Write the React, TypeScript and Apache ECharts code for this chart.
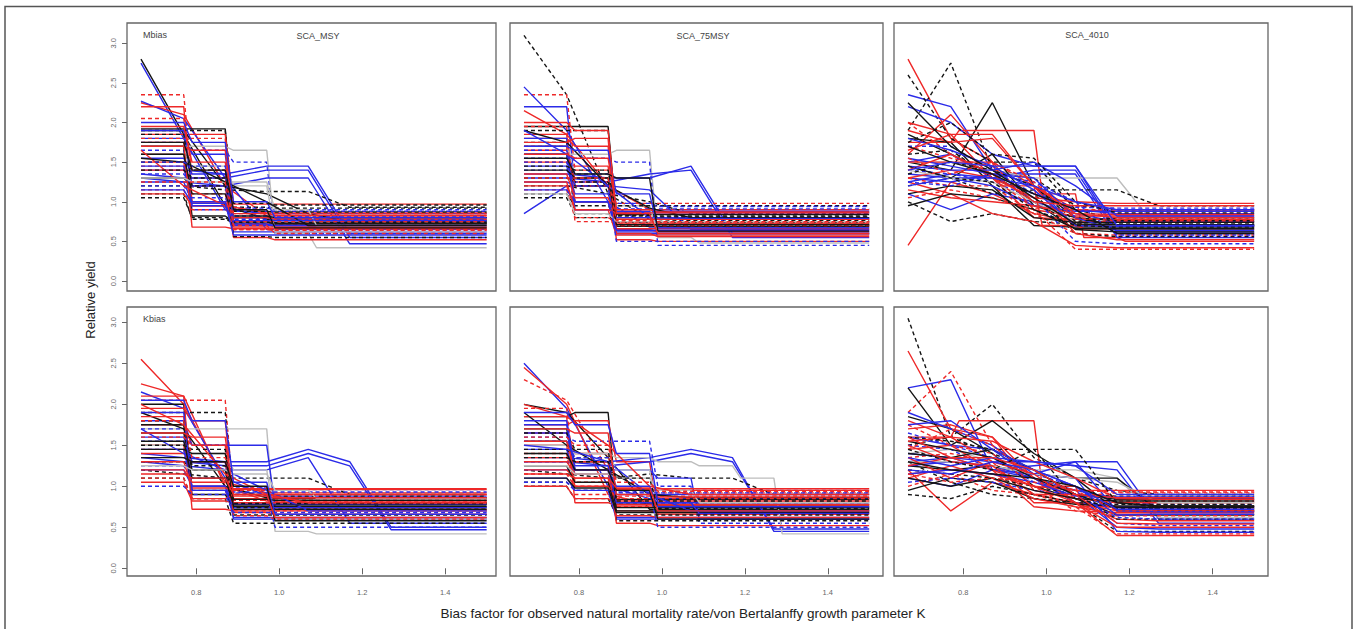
import React, { useEffect, useRef } from 'react';
import * as echarts from 'echarts';

// x positions (bias factor) at which yields change; last value held to X_LAST
const KNOTS = [0.667, 0.77, 0.87, 0.97, 1.07, 1.17, 1.27];
const X_LAST = 1.5;
const X_TICKS = [0.8, 1.0, 1.2, 1.4];
const Y_TICKS = [0, 0.5, 1.0, 1.5, 2.0, 2.5, 3.0];
const ROW_LABELS = ['Mbias', 'Kbias'];
const COL_LABELS = ['SCA_MSY', 'SCA_75MSY', 'SCA_4010'];
const X_TITLE = 'Bias factor for observed natural mortality rate/von Bertalanffy growth parameter K';
const Y_TITLE = 'Relative yield';

// line code: [group R/B/K/G][ '-' solid | ':' dashed ][ 's' step | 'l' linear ], then yields at KNOTS
type Line = (string | number)[];

const mbiasMSY: Line[] = [
  ['K-l', 2.8, 1.85, 0.95, 0.78, 0.76], ['B-l', 2.75, 1.8, 0.9, 0.85], ['r:s', 2.35, 1.3, 0.72],
  ['R-l', 2.25, 2.1, 1.2, 0.82], ['B-l', 2.27, 2.05, 1.3, 0.65], ['R-s', 2.2, 1.0, 0.72, 0.68],
  ['K-s', 1.92, 1.92, 0.75, 0.73], ['k:s', 1.9, 1.9, 0.93, 0.92], ['R-s', 1.85, 1.85, 0.97],
  ['B-s', 1.8, 1.6, 0.8, 0.78], ['b:s', 1.75, 1.65, 1.5, 0.6], ['G-s', 1.7, 1.7, 1.65, 0.6, 0.42],
  ['B-l', 1.4, 1.4, 1.35, 1.45, 1.45, 0.6], ['B-l', 1.35, 1.3, 1.3, 1.4, 1.4, 0.55], ['B-l', 1.3, 1.25, 1.2, 1.3, 1.3, 0.47],
  ['k:l', 1.2, 1.2, 1.15, 1.13, 1.13, 0.93], ['K-l', 1.9, 1.9, 1.2, 1.1, 0.85, 0.75], ['R-s', 1.6, 1.0, 0.8],
  ['R-s', 1.5, 0.95, 0.7], ['r:s', 1.45, 1.1, 0.65], ['B-s', 1.55, 1.35, 0.7],
  ['b:s', 1.65, 0.9, 0.88], ['K-s', 1.7, 0.82, 0.75, 0.72], ['k:s', 1.05, 0.8, 0.74],
  ['k:s', 1.1, 0.78, 0.73], ['R-s', 1.1, 0.95, 0.68], ['r:s', 1.15, 0.9, 0.85],
  ['B-s', 1.25, 1.0, 0.62], ['b:s', 1.2, 1.05, 0.82], ['K-s', 1.3, 1.2, 0.8],
  ['R-s', 1.4, 1.2, 0.55, 0.52], ['k:s', 1.5, 1.4, 0.56, 0.55], ['G-s', 1.6, 1.45, 1.2, 0.62],
  ['B-s', 1.45, 0.95, 0.76], ['R-s', 1.75, 0.68, 0.66], ['r:s', 1.8, 1.8, 0.65, 0.64],
  ['B-s', 1.9, 1.2, 0.72, 0.7], ['K-s', 1.6, 1.1, 0.82, 0.8], ['b:s', 1.35, 1.2, 0.92, 0.9],
  ['R-s', 1.95, 1.5, 0.8, 0.78], ['R-l', 1.65, 1.2, 0.95, 0.86], ['k:s', 1.85, 1.2, 0.88, 0.87],
  ['B-s', 1.15, 0.98, 0.58], ['r:s', 2.05, 1.4, 0.75], ['G-s', 1.3, 1.25, 1.25, 0.9, 0.7],
  ['K-l', 1.55, 1.5, 1.25, 1.0, 0.7], ['R-s', 1.7, 1.65, 0.85, 0.83], ['b:s', 1.5, 1.45, 0.78, 0.77],
  ['K-s', 1.75, 1.4, 0.9, 0.67], ['r:s', 1.25, 1.25, 0.7, 0.6], ['B-s', 2.0, 1.75, 1.0, 0.8],
  ['k:s', 1.4, 1.3, 0.98, 0.96],
];

const mbias75MSY: Line[] = [
  ['k:l', 3.1, 2.35, 1.1, 0.78, 0.76], ['r:s', 2.35, 1.4, 0.75], ['B-s', 2.2, 1.2, 0.62],
  ['R-l', 2.15, 1.85, 1.2, 0.9], ['B-l', 2.45, 1.9, 1.0, 0.68], ['K-s', 1.95, 1.95, 0.8, 0.78],
  ['k:s', 1.9, 1.9, 0.75, 0.72], ['R-s', 1.8, 1.7, 0.65, 0.62], ['k:s', 1.75, 0.8, 0.74],
  ['G-s', 1.6, 1.6, 1.65, 0.55, 0.48], ['b:s', 1.55, 1.55, 1.5, 0.45], ['B-l', 1.35, 1.35, 1.3, 1.3, 1.45, 0.6],
  ['B-l', 1.3, 1.3, 1.25, 1.35, 1.4, 0.55], ['B-l', 0.85, 1.2, 1.2, 1.15, 0.65], ['k:l', 1.2, 1.2, 1.1, 1.0, 0.85],
  ['R-s', 1.65, 1.25, 0.72], ['r:s', 1.5, 1.3, 0.98], ['B-s', 1.45, 1.1, 0.8],
  ['K-s', 1.6, 1.0, 0.69], ['R-s', 1.2, 0.9, 0.58], ['k:s', 1.05, 0.85, 0.7],
  ['k:s', 1.1, 0.95, 0.82], ['r:s', 1.15, 0.8, 0.74], ['B-s', 1.25, 1.2, 0.88],
  ['b:s', 1.4, 1.25, 0.91], ['R-s', 1.85, 1.0, 0.66], ['K-s', 1.7, 1.2, 0.84],
  ['B-s', 1.8, 0.9, 0.86], ['r:s', 1.95, 0.75, 0.73], ['R-s', 1.5, 1.45, 0.52, 0.5],
  ['G-s', 1.7, 1.35, 0.95, 0.6], ['B-s', 1.6, 1.0, 0.6], ['k:s', 1.3, 1.25, 0.95],
  ['R-s', 1.35, 1.05, 0.78], ['b:s', 1.65, 1.35, 0.98, 0.94], ['K-l', 1.9, 1.75, 1.2, 0.92, 0.8],
  ['R-s', 1.75, 1.8, 0.6, 0.56], ['B-s', 1.15, 1.0, 0.64], ['r:s', 1.7, 1.2, 0.7],
  ['K-s', 1.4, 1.3, 0.71], ['G-s', 1.1, 0.85, 0.75], ['R-s', 1.25, 0.9, 0.86],
  ['b:s', 1.5, 1.2, 0.5], ['B-l', 1.9, 1.6, 1.2, 0.8, 0.79], ['R-s', 1.6, 1.55, 0.9, 0.87],
  ['k:s', 1.45, 1.4, 0.83, 0.81], ['B-s', 1.7, 1.65, 1.1, 0.67], ['r:s', 1.3, 1.3, 0.76, 0.75],
  ['K-s', 1.55, 1.35, 1.3, 0.63], ['R-s', 2.0, 1.9, 0.85, 0.6],
];

const mbias4010: Line[] = [
  ['R-l', 2.8, 1.8, 1.5, 1.2, 0.9, 0.88], ['R-l', 0.45, 1.25, 1.1, 0.85, 0.75], ['k:l', 1.9, 2.75, 1.4, 1.3, 0.95, 0.9],
  ['K-l', 1.5, 1.4, 2.25, 1.2, 0.8, 0.7], ['B-l', 2.35, 2.2, 1.4, 1.2, 0.7], ['R-s', 1.75, 1.9, 1.9, 1.1, 0.55, 0.5],
  ['k:l', 2.6, 1.8, 1.5, 1.5, 0.9, 0.78], ['B-l', 2.2, 2.0, 1.6, 1.45, 1.45, 0.62], ['B-l', 1.35, 1.3, 1.3, 1.4, 1.4, 0.6],
  ['B-l', 1.3, 1.25, 1.35, 1.35, 1.35, 0.55], ['G-l', 1.5, 1.5, 1.4, 1.3, 1.3, 1.3, 0.65], ['k:l', 1.2, 1.3, 1.1, 1.15, 1.15, 1.15, 0.95],
  ['K-l', 1.85, 1.6, 1.35, 1.0, 0.65, 0.62], ['R-l', 2.0, 1.85, 1.3, 0.8, 0.78], ['r:l', 1.7, 1.55, 1.45, 1.0, 0.7],
  ['B-l', 1.1, 0.9, 1.1, 1.0, 0.85, 0.75], ['k:l', 1.0, 0.75, 0.85, 0.75, 0.72], ['K-l', 1.45, 1.3, 1.6, 0.95, 0.8, 0.76],
  ['R-l', 1.6, 2.1, 1.5, 0.9, 0.82], ['B-l', 1.5, 1.6, 1.3, 1.1, 0.9, 0.85], ['r:l', 1.3, 1.2, 1.2, 0.85, 0.6, 0.58],
  ['K-l', 1.8, 1.75, 1.2, 0.7, 0.68], ['R-l', 1.25, 1.1, 0.85, 0.75, 0.45, 0.42], ['b:l', 1.4, 1.35, 1.25, 1.05, 0.5, 0.47],
  ['k:l', 1.6, 1.65, 1.3, 1.1, 0.6, 0.56], ['R-l', 1.3, 1.4, 1.3, 1.05, 1.0, 0.98], ['B-l', 1.2, 1.3, 1.2, 0.95, 0.88],
  ['G-l', 1.4, 1.3, 1.25, 1.0, 0.75, 0.7], ['R-s', 1.5, 1.5, 1.2, 0.7, 0.66], ['r:l', 2.0, 1.6, 1.3, 0.92, 0.9],
  ['K-l', 1.1, 1.2, 1.15, 0.8, 0.74], ['B-l', 1.55, 1.45, 1.35, 1.3, 0.8, 0.64], ['k:l', 1.35, 1.5, 1.4, 1.2, 0.75, 0.8],
  ['R-l', 1.9, 1.75, 1.8, 1.2, 0.6, 0.52], ['b:l', 1.7, 1.7, 1.4, 1.1, 0.93, 0.92], ['R-l', 1.15, 1.05, 1.0, 0.95, 0.85, 0.84],
  ['K-l', 0.95, 1.1, 1.05, 0.9, 0.66], ['B-l', 1.8, 1.65, 1.45, 1.15, 0.7, 0.69], ['r:l', 1.05, 1.15, 1.05, 0.9, 0.4, 0.4],
  ['b:l', 1.25, 1.2, 1.35, 1.25, 1.0, 0.58], ['K-l', 2.25, 1.7, 1.4, 1.05, 0.72, 0.71], ['R-l', 1.4, 1.6, 1.35, 1.0, 0.95, 0.95],
  ['B-l', 1.45, 1.4, 1.4, 1.5, 1.2, 0.82], ['k:l', 1.75, 2.0, 1.6, 1.55, 1.0, 0.86], ['R-l', 1.65, 1.85, 1.85, 1.2, 0.85, 0.8],
  ['B-l', 1.25, 1.35, 1.3, 1.2, 1.0, 0.9], ['k:l', 1.45, 1.3, 1.25, 0.9, 0.7, 0.68], ['K-l', 1.7, 1.5, 1.35, 1.1, 0.9, 0.6],
  ['r:l', 1.55, 1.35, 1.5, 1.25, 0.8, 0.76], ['B-l', 1.4, 1.5, 1.45, 1.45, 1.45, 0.7],
];

const kbiasMSY: Line[] = [
  ['R-l', 2.55, 2.0, 1.05, 0.92], ['R-l', 2.25, 2.1, 1.0, 0.82], ['B-l', 2.15, 1.95, 1.1, 0.88],
  ['r:s', 2.05, 2.05, 0.85, 0.82], ['k:s', 1.9, 1.9, 0.9, 0.88], ['K-s', 2.0, 0.95, 0.8],
  ['R-s', 1.95, 1.8, 0.75, 0.72], ['G-s', 1.7, 1.7, 1.7, 0.45, 0.42], ['B-s', 1.8, 1.5, 1.5, 0.75],
  ['B-l', 1.4, 1.35, 1.3, 1.3, 1.45, 1.3, 0.5], ['B-l', 1.35, 1.3, 1.25, 1.25, 1.4, 1.25, 0.47], ['B-l', 1.3, 1.25, 1.2, 1.2, 1.35, 0.55],
  ['k:l', 1.2, 1.15, 1.1, 1.1, 1.1, 0.9], ['R-s', 1.75, 1.5, 0.8, 0.78], ['R-s', 1.5, 1.0, 0.85],
  ['r:s', 1.45, 0.95, 0.7], ['K-s', 1.65, 1.2, 0.72], ['k:s', 1.1, 0.85, 0.55],
  ['B-s', 1.6, 1.3, 0.6], ['b:s', 1.7, 1.5, 0.98, 0.96], ['R-s', 1.05, 0.82, 0.8],
  ['r:s', 1.1, 0.85, 0.83], ['K-l', 1.9, 1.7, 1.0, 0.86], ['B-s', 1.2, 1.0, 0.78],
  ['b:s', 1.25, 1.1, 0.93], ['R-s', 1.85, 0.72, 0.7], ['k:s', 1.3, 1.2, 0.65],
  ['R-s', 1.4, 1.3, 0.68, 0.66], ['B-s', 1.45, 1.0, 0.62], ['G-s', 1.5, 1.4, 1.2, 0.6],
  ['K-s', 1.75, 0.9, 0.75], ['R-s', 2.1, 0.85, 0.9], ['b:s', 1.55, 1.3, 0.92, 0.5],
  ['R-s', 1.3, 0.98, 0.96], ['K-s', 1.45, 1.4, 0.84, 0.83], ['B-s', 1.9, 0.95, 0.74],
  ['r:s', 1.6, 1.5, 0.64, 0.6], ['k:s', 1.8, 1.25, 0.79], ['R-s', 1.2, 1.05, 0.97],
  ['B-l', 1.7, 1.4, 1.2, 0.95, 0.7], ['K-s', 1.55, 1.1, 0.77], ['R-l', 2.0, 1.75, 1.15, 0.9, 0.8],
  ['G-s', 1.25, 1.2, 1.15, 0.95, 0.85], ['b:s', 1.0, 0.9, 0.68], ['R-s', 1.65, 1.6, 0.88, 0.86],
  ['k:s', 1.5, 1.45, 0.74, 0.72], ['B-s', 2.05, 1.8, 1.05, 0.66], ['r:s', 1.8, 1.35, 0.95, 0.9],
  ['K-s', 1.35, 1.3, 1.0, 0.58], ['R-s', 1.15, 1.1, 0.9, 0.62],
];

const kbias75MSY: Line[] = [
  ['B-l', 2.5, 1.95, 1.0, 0.85], ['R-l', 2.45, 2.0, 0.9, 0.78], ['r:l', 2.3, 2.05, 1.2, 0.92],
  ['K-l', 2.0, 1.9, 1.35, 0.72], ['K-s', 1.85, 1.9, 0.8, 0.77], ['R-s', 1.75, 1.8, 1.3, 0.66],
  ['b:s', 1.6, 1.55, 1.55, 1.0, 0.55], ['B-l', 1.35, 1.35, 1.3, 1.35, 1.45, 1.35, 0.45], ['B-l', 1.3, 1.3, 1.25, 1.3, 1.4, 1.3, 0.48],
  ['G-s', 1.4, 1.4, 1.35, 1.3, 1.25, 1.1, 0.42], ['k:l', 1.2, 1.15, 1.1, 1.15, 1.1, 1.1, 0.9], ['B-s', 1.2, 1.2, 1.2, 1.1, 0.6],
  ['R-s', 1.65, 1.4, 0.7, 0.68], ['R-s', 1.5, 1.0, 0.82], ['r:s', 1.4, 0.9, 0.75],
  ['K-s', 1.55, 1.3, 0.84], ['k:s', 1.0, 0.85, 0.65], ['k:s', 1.05, 0.95, 0.8],
  ['R-s', 1.0, 0.85, 0.78], ['B-s', 1.45, 1.15, 0.9], ['b:s', 1.3, 1.2, 0.95],
  ['R-s', 1.85, 0.8, 0.76], ['K-s', 1.7, 1.2, 0.74], ['B-s', 1.75, 1.2, 0.62],
  ['r:s', 1.95, 1.05, 0.88], ['R-s', 1.3, 1.15, 0.97], ['G-s', 1.5, 1.4, 1.2, 0.7],
  ['B-s', 1.1, 0.95, 0.6], ['k:s', 1.45, 1.35, 0.58], ['R-s', 1.2, 1.1, 0.64, 0.62],
  ['K-l', 1.9, 1.5, 1.2, 0.9, 0.86], ['b:s', 1.55, 1.35, 0.92], ['R-s', 1.35, 1.3, 0.55, 0.52],
  ['K-s', 1.25, 1.05, 0.7], ['B-s', 1.65, 1.25, 0.8], ['r:s', 1.15, 1.0, 0.85],
  ['k:s', 1.65, 1.45, 0.82], ['R-s', 1.55, 1.2, 0.96, 0.95], ['B-l', 1.5, 1.45, 1.3, 0.9, 0.7],
  ['K-s', 1.1, 0.98, 0.68], ['G-s', 1.25, 1.15, 1.1, 0.95, 0.8], ['b:s', 1.05, 0.95, 0.93, 0.5],
  ['R-l', 2.0, 1.85, 1.5, 1.0, 0.9], ['B-s', 1.8, 1.2, 1.0, 0.75], ['R-s', 1.7, 1.65, 0.9, 0.87],
  ['k:s', 1.35, 1.3, 1.1, 0.73], ['B-s', 1.9, 1.75, 1.4, 0.8, 0.67], ['r:s', 1.6, 1.5, 1.05, 0.94],
  ['K-s', 1.4, 1.2, 0.95, 0.6], ['R-s', 1.15, 1.1, 0.98, 0.7],
];

const kbias4010: Line[] = [
  ['k:l', 3.05, 1.6, 1.4, 1.2, 0.9, 0.88], ['R-l', 2.65, 1.7, 1.6, 1.1, 0.8, 0.75], ['B-l', 2.2, 2.3, 1.2, 1.1, 0.8, 0.75],
  ['r:l', 1.9, 2.4, 1.5, 1.1, 0.85, 0.82], ['k:l', 1.5, 1.6, 2.0, 1.35, 1.1, 0.95, 0.9], ['R-s', 1.6, 1.8, 1.8, 1.0, 0.75, 0.72],
  ['K-l', 2.2, 1.5, 1.8, 1.4, 1.1, 0.7], ['B-l', 1.1, 1.0, 1.2, 1.25, 1.3, 1.3, 0.6], ['B-l', 1.3, 1.35, 1.3, 1.3, 1.25, 1.2, 0.55],
  ['G-l', 1.4, 1.45, 1.3, 1.2, 1.2, 1.1, 0.62], ['K-l', 1.25, 1.2, 1.25, 1.15, 1.1, 1.1, 0.7], ['R-l', 1.2, 0.7, 1.05, 0.9, 0.8, 0.6, 0.58],
  ['r:l', 1.0, 1.15, 0.95, 0.9, 0.75, 0.42, 0.42], ['k:l', 1.3, 1.05, 0.9, 0.85, 0.8, 0.45], ['B-l', 1.6, 1.5, 1.45, 1.1, 0.9, 0.5, 0.48],
  ['R-l', 1.8, 1.6, 1.3, 0.8, 0.8, 0.7], ['b:l', 1.5, 1.45, 1.2, 1.15, 1.0, 0.8, 0.78], ['K-l', 1.85, 1.7, 1.4, 1.0, 0.85, 0.65],
  ['R-l', 1.45, 1.5, 1.2, 0.75, 0.7, 0.68], ['B-l', 1.25, 1.3, 1.25, 1.1, 0.95, 0.85], ['r:l', 1.35, 1.4, 1.3, 0.9, 0.88, 0.92],
  ['K-l', 0.95, 1.1, 1.05, 0.85, 0.78, 0.76], ['R-l', 1.1, 1.25, 1.1, 0.85, 0.75, 0.66], ['b:l', 1.65, 1.5, 1.35, 1.05, 0.95, 0.55, 0.52],
  ['k:l', 1.2, 1.15, 1.1, 1.0, 0.9, 0.6], ['R-l', 1.7, 1.75, 1.6, 0.95, 0.85, 0.8], ['B-l', 1.4, 1.35, 1.2, 1.15, 1.1, 0.45, 0.44],
  ['G-l', 1.3, 1.3, 1.25, 1.15, 1.1, 1.05, 0.8], ['R-l', 1.15, 1.2, 1.15, 1.0, 0.95, 0.95], ['K-l', 1.55, 1.45, 1.35, 1.1, 0.9, 0.84],
  ['r:l', 1.75, 1.5, 1.4, 1.0, 0.7, 0.64], ['B-l', 1.9, 1.7, 1.5, 1.15, 1.3, 0.7, 0.69], ['k:l', 0.9, 0.85, 1.0, 0.9, 0.8, 0.78],
  ['R-l', 1.35, 1.1, 1.3, 1.15, 0.8, 0.5, 0.5], ['B-l', 1.15, 1.2, 1.15, 1.05, 0.88, 0.87], ['K-l', 1.4, 1.35, 1.45, 1.2, 0.9, 0.74],
  ['b:l', 1.05, 1.1, 1.05, 0.95, 0.9, 0.62, 0.6], ['R-l', 1.5, 1.3, 1.25, 0.9, 0.9, 0.86], ['k:l', 1.6, 1.55, 1.45, 1.45, 0.85, 0.73],
  ['B-l', 1.75, 1.8, 1.45, 1.2, 1.0, 0.65, 0.66], ['R-l', 1.25, 1.35, 1.2, 1.0, 0.8, 0.4, 0.4], ['K-l', 1.1, 1.0, 1.1, 0.95, 0.85, 0.82],
  ['r:l', 1.45, 1.7, 1.5, 1.1, 0.95, 0.93], ['B-l', 1.2, 1.15, 1.3, 1.2, 1.0, 0.72], ['R-l', 1.55, 1.6, 1.55, 1.3, 1.1, 0.85, 0.84],
  ['B-l', 1.35, 1.25, 1.35, 1.3, 1.25, 0.9, 0.9], ['k:l', 1.45, 1.3, 1.2, 1.45, 1.45, 0.8, 0.75], ['K-l', 1.3, 1.2, 1.15, 1.1, 1.0, 0.8, 0.76],
  ['r:l', 1.15, 1.05, 1.1, 1.05, 0.95, 0.7, 0.7], ['R-l', 1.6, 1.35, 1.35, 1.2, 0.9, 0.55, 0.54],
];

const PANEL_DATA: Line[][][] = [
  [mbiasMSY, mbias75MSY, mbias4010],
  [kbiasMSY, kbias75MSY, kbias4010],
];

// ---- layout / style (not data) ----
const COLS = [
  { left: 127, width: 369, xMax: 1.5225 },
  { left: 510, width: 373, xMax: 1.5333 },
  { left: 894, width: 374, xMax: 1.5333 },
];
const X_MIN = 0.6333;
const ROWS = [
  { top: 23, height: 268, yMin: -0.126, yMax: 3.256 },
  { top: 307, height: 269, yMin: -0.094, yMax: 3.187 },
];
const COLORS: Record<string, string> = { R: '#ee2828', B: '#2b2be8', K: '#151515', G: '#bdbdbd' };
const STEP_EPS = 0.02;
const FONT = '"Liberation Sans", Arial, Helvetica, sans-serif';

function linePoints(line: Line): number[][] {
  const code = line[0] as string;
  const vals = line.slice(1) as number[];
  const pts: number[][] = [];
  if (code[2] === 's') {
    vals.forEach((v, i) => {
      const x0 = i === 0 ? KNOTS[0] : KNOTS[i] + STEP_EPS;
      const x1 = i === vals.length - 1 ? X_LAST : KNOTS[i + 1];
      pts.push([x0, v], [x1, v]);
    });
  } else {
    vals.forEach((v, i) => pts.push([KNOTS[i], v]));
    pts.push([X_LAST, vals[vals.length - 1]]);
  }
  return pts;
}

export default function App() {
  const ref = useRef<HTMLDivElement>(null);
  useEffect(() => {
    if (!ref.current) return;
    const chart = echarts.init(ref.current, undefined, { renderer: 'svg' });
    const grids: any[] = [];
    const xAxes: any[] = [];
    const yAxes: any[] = [];
    const series: any[] = [];
    ROWS.forEach((row, r) => {
      COLS.forEach((col, c) => {
        const gi = grids.length;
        grids.push({
          left: col.left, top: row.top, width: col.width, height: row.height,
          show: true, borderColor: '#666', borderWidth: 1.3, backgroundColor: 'transparent',
        });
        xAxes.push({
          gridIndex: gi, type: 'value', min: X_MIN, max: col.xMax,
          axisLine: { show: false }, splitLine: { show: false },
          axisTick: { show: r === 1, customValues: X_TICKS, length: 6, lineStyle: { color: '#666', width: 1 } },
          axisLabel: {
            show: r === 1, customValues: X_TICKS, formatter: (v: number) => v.toFixed(1),
            fontSize: 7.5, color: '#666', margin: 12, fontFamily: FONT,
          },
        });
        yAxes.push({
          gridIndex: gi, type: 'value', min: row.yMin, max: row.yMax,
          axisLine: { show: false }, splitLine: { show: false },
          axisTick: { show: c === 0, customValues: Y_TICKS, length: 5, lineStyle: { color: '#666', width: 1 } },
          axisLabel: {
            show: c === 0, customValues: Y_TICKS, formatter: (v: number) => v.toFixed(1),
            fontSize: 7.5, color: '#666', margin: 10, rotate: 90, fontFamily: FONT,
          },
        });
        PANEL_DATA[r][c].forEach((line) => {
          const code = line[0] as string;
          series.push({
            type: 'line', xAxisIndex: gi, yAxisIndex: gi, data: linePoints(line),
            showSymbol: false, symbol: 'none', silent: true, clip: true,
            lineStyle: {
              color: COLORS[code[0].toUpperCase()], width: 1.4,
              type: code[1] === ':' ? [4, 3] : 'solid',
            },
          });
        });
      });
    });

    const textStyle = (text: string, size: number, fill: string, align = 'center') => ({
      text, fontSize: size, fontFamily: FONT, fill, align, verticalAlign: 'middle',
    });
    const graphic: any[] = [
      { type: 'rect', silent: true, shape: { x: 5, y: 6.5, width: 1347, height: 640 },
        style: { fill: 'none', stroke: '#555', lineWidth: 1.5 } },
      { type: 'text', x: 143, y: 35, style: textStyle(ROW_LABELS[0], 9, '#444', 'left') },
      { type: 'text', x: 143, y: 319, style: textStyle(ROW_LABELS[1], 9, '#444', 'left') },
      { type: 'text', x: 318, y: 36, style: textStyle(COL_LABELS[0], 9, '#444') },
      { type: 'text', x: 703, y: 36, style: textStyle(COL_LABELS[1], 9, '#444') },
      { type: 'text', x: 1087, y: 35, style: textStyle(COL_LABELS[2], 9, '#444') },
      { type: 'text', x: 90, y: 300, rotation: Math.PI / 2, style: textStyle(Y_TITLE, 13, '#222') },
      { type: 'text', x: 683, y: 613, style: textStyle(X_TITLE, 13.5, '#222') },
    ];

    chart.setOption({
      animation: false,
      backgroundColor: '#fff',
      grid: grids, xAxis: xAxes, yAxis: yAxes, series, graphic,
    });
    return () => chart.dispose();
  }, []);
  return <div ref={ref} style={{ position: 'absolute', left: 0, top: 0, width: 1355, height: 629 }} />;
}
